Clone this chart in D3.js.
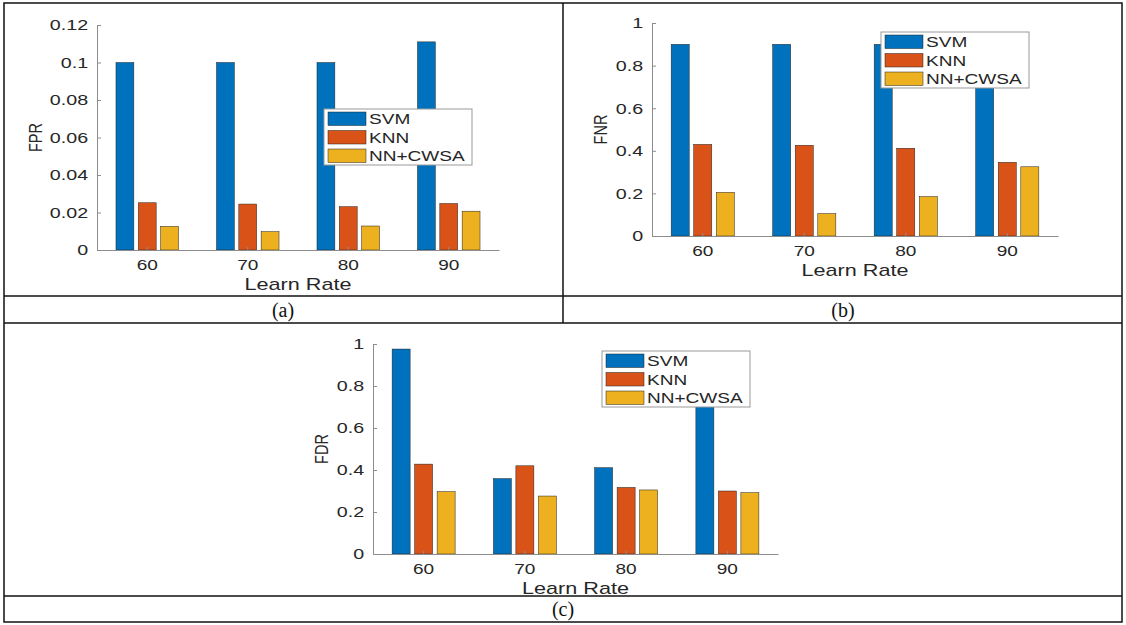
<!DOCTYPE html>
<html>
<head>
<meta charset="utf-8">
<script src="https://cdn.jsdelivr.net/npm/d3@7"></script>
<style>
  body { margin: 0; background: #fff; }
  svg { display: block; }
</style>
</head>
<body>
<svg></svg>
<script>
var width = 1126;
var height = 625;

// DATA
var categories = ["60", "70", "80", "90"];
var seriesNames = ["SVM", "KNN", "NN+CWSA"];

var fprSVM = [0.1, 0.1, 0.1, 0.111];
var fprKNN = [0.0252, 0.0245, 0.0231, 0.0248];
var fprNN = [0.0126, 0.0098, 0.0128, 0.0207];

var fnrSVM = [0.9, 0.9, 0.9, 0.9];
var fnrKNN = [0.43, 0.426, 0.412, 0.346];
var fnrNN = [0.205, 0.105, 0.185, 0.325];

var fdrSVM = [0.976, 0.359, 0.411, 0.8];
var fdrKNN = [0.428, 0.42, 0.317, 0.3];
var fdrNN = [0.297, 0.276, 0.305, 0.292];

var fprTicks = [0, 0.02, 0.04, 0.06, 0.08, 0.1, 0.12];
var rateTicks = [0, 0.2, 0.4, 0.6, 0.8, 1];
var captions = ["(a)", "(b)", "(c)"];

var colors = ["#0072BD", "#D95319", "#EDB120"];
var stretch = 1.27; // the figure text is stretched sideways in the picture
var sansFont = "'Liberation Sans', Arial, sans-serif";

var svg = d3.select("svg").attr("width", width).attr("height", height);

function stretchedText(g, x, y, txt, size, anchor, rotate) {
  return g
    .append("text")
    .attr("transform", `translate(${x},${y}) scale(${stretch},1)` + (rotate ? " rotate(-90)" : ""))
    .attr("text-anchor", anchor)
    .attr("dy", "0.35em")
    .style("font-family", sansFont)
    .style("font-size", size + "px")
    .style("fill", "#262626")
    .text(txt);
}

function drawPanel(opts) {
  var g = svg.append("g");

  var x0 = d3.scaleBand().domain(categories).range([opts.left, opts.right]);
  var bw = x0.bandwidth();
  // matlab grouped bars: group takes 2/3 of category, bars 0.8 of slot
  var x1 = d3
    .scaleBand()
    .domain(seriesNames)
    .range([bw / 2 - bw / 3, bw / 2 + bw / 3])
    .paddingInner(0.2)
    .paddingOuter(0.1);
  var y = d3.scaleLinear().domain([0, opts.ticks[opts.ticks.length - 1]]).range([opts.bottom, opts.top]);

  // BARS
  var rows = categories.map((c, i) => ({
    cat: c,
    vals: opts.series.map((s, j) => ({ name: seriesNames[j], value: s[i], color: colors[j] })),
  }));
  g.selectAll("g.grp")
    .data(rows)
    .enter()
    .append("g")
    .attr("transform", (d) => `translate(${x0(d.cat)},0)`)
    .selectAll("rect")
    .data((d) => d.vals)
    .enter()
    .append("rect")
    .attr("x", (d) => x1(d.name))
    .attr("width", x1.bandwidth())
    .attr("y", (d) => y(d.value))
    .attr("height", (d) => y(0) - y(d.value))
    .attr("fill", (d) => d.color)
    .attr("stroke", "#222")
    .attr("stroke-width", 0.5);

  // Y AXIS
  var yAxis = d3.axisLeft(y).tickValues(opts.ticks).tickFormat(d3.format("")).tickSize(-4).tickSizeOuter(0).tickPadding(7);
  var ya = g.append("g").attr("transform", `translate(${opts.left},0)`).call(yAxis);
  ya.select(".domain").attr("stroke", "#8c8c8c");
  ya.selectAll(".tick line").attr("stroke", "#8c8c8c");
  ya.selectAll("text")
    .attr("transform", `scale(${stretch},1)`)
    .style("font-family", sansFont)
    .style("font-size", "15.5px")
    .attr("fill", "#262626");

  // X AXIS
  var xAxis = d3.axisBottom(x0).tickSize(-3).tickSizeOuter(0).tickPadding(9);
  var xa = g.append("g").attr("transform", `translate(0,${opts.bottom})`).call(xAxis);
  xa.select(".domain").attr("stroke", "#8c8c8c");
  xa.selectAll(".tick line").attr("stroke", "#8c8c8c");
  xa.selectAll("text")
    .attr("transform", `scale(${stretch},1)`)
    .style("font-family", sansFont)
    .style("font-size", "15px")
    .attr("fill", "#262626");

  // AXIS LABELS
  stretchedText(g, (opts.left + opts.right) / 2, opts.bottom + 34, "Learn Rate", 17, "middle", false);
  stretchedText(g, opts.yLabelX, (opts.top + opts.bottom) / 2, opts.yLabel, 14.5, "middle", true);

  // LEGEND
  var lg = g.append("g").attr("transform", `translate(${opts.legend[0]},${opts.legend[1]})`);
  lg.append("rect")
    .attr("width", 148)
    .attr("height", 56)
    .attr("fill", "#fff")
    .attr("stroke", "#999")
    .attr("stroke-width", 1);
  seriesNames.forEach((name, i) => {
    lg.append("rect")
      .attr("x", 4)
      .attr("y", 3 + i * 18.5)
      .attr("width", 38)
      .attr("height", 13.5)
      .attr("fill", colors[i])
      .attr("stroke", "#222")
      .attr("stroke-width", 0.5);
    stretchedText(lg, 45, 10 + i * 18.5, name, 15, "start", false);
  });
}

drawPanel({
  left: 97, right: 499, top: 25, bottom: 250,
  ticks: fprTicks, series: [fprSVM, fprKNN, fprNN],
  yLabel: "FPR", yLabelX: 36, legend: [324, 109],
});
drawPanel({
  left: 652, right: 1058, top: 23, bottom: 236,
  ticks: rateTicks, series: [fnrSVM, fnrKNN, fnrNN],
  yLabel: "FNR", yLabelX: 601, legend: [881, 32],
});
drawPanel({
  left: 373, right: 778, top: 344, bottom: 554,
  ticks: rateTicks, series: [fdrSVM, fdrKNN, fdrNN],
  yLabel: "FDR", yLabelX: 322, legend: [602, 351],
});

// TABLE FRAME
var frame = svg.append("g").attr("stroke", "#111").attr("stroke-width", 1.5).attr("fill", "none");
frame.append("rect").attr("x", 4).attr("y", 3).attr("width", 1118).attr("height", 619);
frame.append("line").attr("x1", 563).attr("x2", 563).attr("y1", 3).attr("y2", 323);
[296, 323, 596].forEach((yy) => {
  frame.append("line").attr("x1", 4).attr("x2", 1122).attr("y1", yy).attr("y2", yy);
});

// CAPTIONS
var capPos = [[283, 310], [843, 310], [563, 609]];
svg.selectAll("text.cap")
  .data(captions)
  .enter()
  .append("text")
  .attr("class", "cap")
  .attr("x", (d, i) => capPos[i][0])
  .attr("y", (d, i) => capPos[i][1])
  .attr("dy", "0.35em")
  .attr("text-anchor", "middle")
  .style("font-family", "'Liberation Serif', 'Times New Roman', serif")
  .style("font-size", "20px")
  .style("fill", "#111")
  .text((d) => d);
</script>
</body>
</html>
